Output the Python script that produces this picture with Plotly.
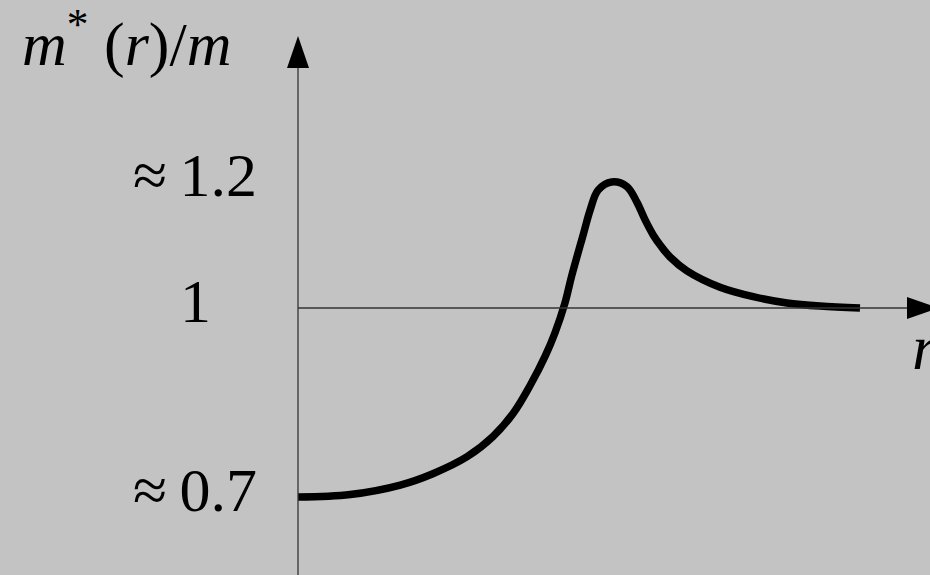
import plotly.graph_objects as go

# Effective-mass ratio m*(r)/m along r
r_vals = [0.000, 0.093, 0.182, 0.240, 0.301, 0.347, 0.383, 0.413, 0.440, 0.457,
          0.475, 0.487, 0.508, 0.520, 0.534, 0.558, 0.585, 0.603, 0.617, 0.632,
          0.646, 0.662, 0.692, 0.751, 0.810, 0.870, 0.929, 1.000]
m_vals = [0.700, 0.704, 0.719, 0.737, 0.764, 0.796, 0.833, 0.877, 0.924, 0.960,
          1.008, 1.051, 1.118, 1.156, 1.187, 1.200, 1.193, 1.168, 1.141, 1.116,
          1.098, 1.081, 1.059, 1.033, 1.018, 1.008, 1.003, 1.000]

tick_vals = [1.2, 1.0, 0.7]
tick_text = ["\u2248\u20091.2", "1", "\u2248\u20090.7"]

BG = "#c3c3c3"
FONT = "Liberation Serif, Times New Roman, serif"

# axis ranges (r spans the x-axis, m*/m the y-axis)
X0, X1 = -0.53025, 1.12456
Y0, Y1 = 0.57619, 1.48889
W, H = 930, 575
dx = (X1 - X0) / W  # r per pixel
dy = (Y1 - Y0) / H  # m per pixel

fig = go.Figure()
fig.add_trace(go.Scatter(x=r_vals, y=m_vals, mode="lines",
                         line=dict(color="black", width=7.5, shape="spline", smoothing=1.0),
                         hoverinfo="skip", showlegend=False))

axis_line = dict(color="#333333", width=1.3)
shapes = [
    # vertical axis
    dict(type="line", x0=0, x1=0, y0=Y0, y1=Y1 - 68 * dy, line=axis_line),
    # horizontal axis at m*/m = 1
    dict(type="line", x0=0, x1=X1 + 40 * dx, y0=1, y1=1, line=axis_line),
    # arrow heads
    dict(type="path",
         path=f"M {-11*dx},{Y1-68*dy} L {11*dx},{Y1-68*dy} L 0,{Y1-36*dy} Z",
         fillcolor="black", line=dict(width=0)),
    dict(type="path",
         path=f"M {X1-23*dx},{1-11*dy} L {X1-23*dx},{1+11*dy} L {X1+9*dx},1 Z",
         fillcolor="black", line=dict(width=0)),
]

annotations = []
for v, t in zip(tick_vals, tick_text):
    annotations.append(dict(x=X0 + 195 * dx, y=v, text=t, showarrow=False,
                            xanchor="center", yanchor="middle", yshift=7,
                            font=dict(family=FONT, size=62, color="black")))
annotations.append(dict(x=0.022, y=1 - 44 / H, xref="paper", yref="paper",
                        text="<i>m</i><sup>*</sup> (<i>r</i>)/<i>m</i>", showarrow=False,
                        xanchor="left", yanchor="middle", yshift=5,
                        font=dict(family=FONT, size=62, color="black")))
annotations.append(dict(x=X0 + 910 * dx, y=1 - 45 * dy, text="<i>r</i>", showarrow=False,
                        xanchor="left", yanchor="middle", yshift=6,
                        font=dict(family=FONT, size=64, color="black")))

fig.update_layout(
    width=W, height=H,
    margin=dict(l=0, r=0, t=0, b=0),
    paper_bgcolor=BG, plot_bgcolor=BG,
    xaxis=dict(range=[X0, X1], visible=False, fixedrange=True),
    yaxis=dict(range=[Y0, Y1], visible=False, fixedrange=True),
    shapes=shapes, annotations=annotations,
)

fig.write_html("out.html")
